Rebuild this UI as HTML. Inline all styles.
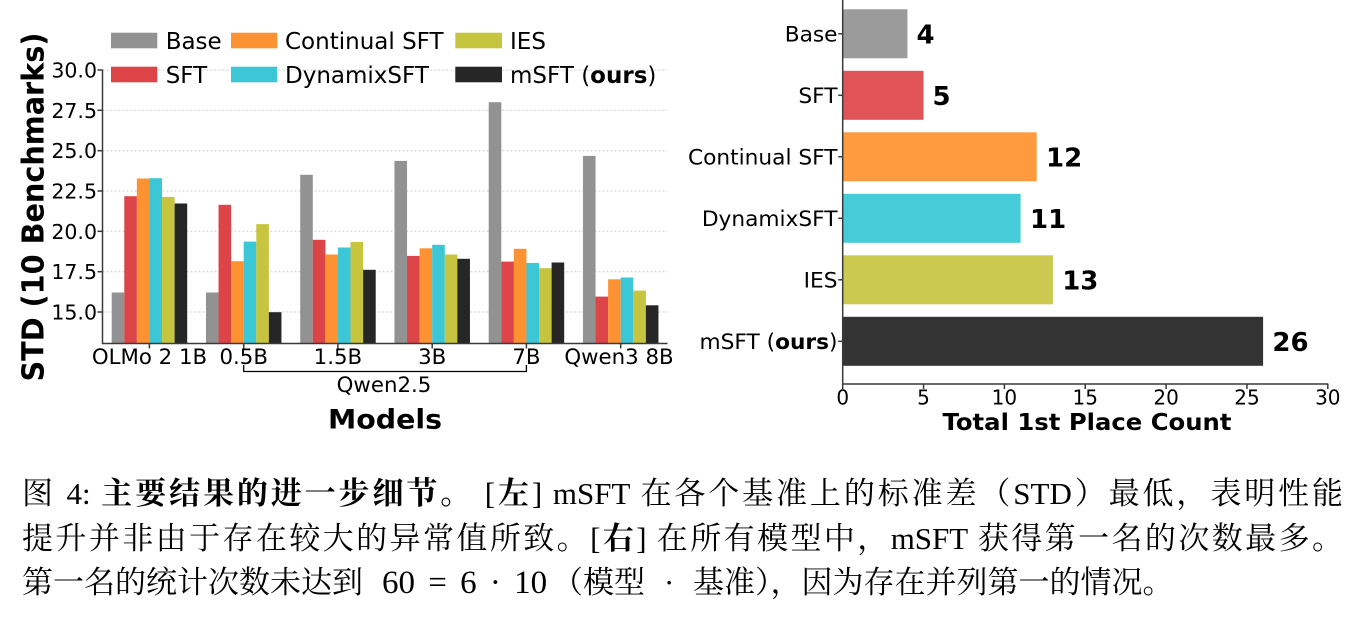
<!DOCTYPE html>
<html><head><meta charset="utf-8"><style>
html,body{margin:0;padding:0;background:#fff;}
body{width:1364px;height:626px;position:relative;overflow:hidden;}
svg{position:absolute;left:0;top:0;}
svg text{font-family:"DejaVu Sans","Liberation Sans",sans-serif;fill:#000;}
.cap{position:absolute;left:22px;width:1321px;font-family:"Liberation Serif","Noto Serif CJK SC",serif;font-size:31px;line-height:44.5px;color:#000;text-align:justify;text-align-last:justify;white-space:normal;}
.cap b{font-weight:bold;}
.seg{position:absolute;font-family:"Liberation Serif","Noto Serif CJK SC",serif;font-size:31px;line-height:44.5px;color:#000;white-space:nowrap;}
</style></head><body>
<svg width="1364" height="626" viewBox="0 0 1364 626" xmlns="http://www.w3.org/2000/svg">
<!-- LEFT CHART gridlines -->
<g stroke="#cfcfcf" stroke-width="1" stroke-dasharray="2,2">
<line x1="102.5" y1="70" x2="667.5" y2="70"/>
<line x1="102.5" y1="110.3" x2="667.5" y2="110.3"/>
<line x1="102.5" y1="150.7" x2="667.5" y2="150.7"/>
<line x1="102.5" y1="191" x2="667.5" y2="191"/>
<line x1="102.5" y1="231.3" x2="667.5" y2="231.3"/>
<line x1="102.5" y1="271.7" x2="667.5" y2="271.7"/>
<line x1="102.5" y1="312" x2="667.5" y2="312"/>
</g>
<!-- bars -->
<g>
<rect x="111.7" y="292.5" width="12.6" height="51" fill="#929292"/>
<rect x="124.28" y="196.2" width="12.6" height="147.3" fill="#dd4448"/>
<rect x="136.86" y="178.5" width="12.6" height="165" fill="#fd9232"/>
<rect x="149.44" y="178.2" width="12.6" height="165.3" fill="#3cc7d6"/>
<rect x="162.02" y="196.9" width="12.6" height="146.6" fill="#c7c540"/>
<rect x="174.6" y="203.5" width="12.6" height="140" fill="#262626"/>

<rect x="205.95" y="292.5" width="12.6" height="51" fill="#929292"/>
<rect x="218.53" y="204.8" width="12.6" height="138.7" fill="#dd4448"/>
<rect x="231.11" y="261.2" width="12.6" height="82.3" fill="#fd9232"/>
<rect x="243.69" y="241.6" width="12.6" height="101.9" fill="#3cc7d6"/>
<rect x="256.27" y="224.1" width="12.6" height="119.4" fill="#c7c540"/>
<rect x="268.85" y="312.2" width="12.6" height="31.3" fill="#262626"/>

<rect x="300.2" y="174.8" width="12.6" height="168.7" fill="#929292"/>
<rect x="312.78" y="239.8" width="12.6" height="103.7" fill="#dd4448"/>
<rect x="325.36" y="254.5" width="12.6" height="89" fill="#fd9232"/>
<rect x="337.94" y="247.5" width="12.6" height="96" fill="#3cc7d6"/>
<rect x="350.52" y="241.9" width="12.6" height="101.6" fill="#c7c540"/>
<rect x="363.1" y="269.8" width="12.6" height="73.7" fill="#262626"/>

<rect x="394.45" y="160.9" width="12.6" height="182.6" fill="#929292"/>
<rect x="407.03" y="255.9" width="12.6" height="87.6" fill="#dd4448"/>
<rect x="419.61" y="248.3" width="12.6" height="95.2" fill="#fd9232"/>
<rect x="432.19" y="244.8" width="12.6" height="98.7" fill="#3cc7d6"/>
<rect x="444.77" y="254.5" width="12.6" height="89" fill="#c7c540"/>
<rect x="457.35" y="258.8" width="12.6" height="84.7" fill="#262626"/>

<rect x="488.7" y="102.2" width="12.6" height="241.3" fill="#929292"/>
<rect x="501.28" y="261.6" width="12.6" height="81.9" fill="#dd4448"/>
<rect x="513.86" y="248.8" width="12.6" height="94.7" fill="#fd9232"/>
<rect x="526.44" y="262.9" width="12.6" height="80.6" fill="#3cc7d6"/>
<rect x="539.02" y="268.2" width="12.6" height="75.3" fill="#c7c540"/>
<rect x="551.6" y="262.5" width="12.6" height="81" fill="#262626"/>

<rect x="582.95" y="155.9" width="12.6" height="187.6" fill="#929292"/>
<rect x="595.53" y="296.6" width="12.6" height="46.9" fill="#dd4448"/>
<rect x="608.11" y="279.3" width="12.6" height="64.2" fill="#fd9232"/>
<rect x="620.69" y="277.5" width="12.6" height="66" fill="#3cc7d6"/>
<rect x="633.27" y="290.6" width="12.6" height="52.9" fill="#c7c540"/>
<rect x="645.85" y="305.3" width="12.6" height="38.2" fill="#262626"/>
</g>
<!-- spines -->
<g stroke="#3a3a3a" stroke-width="1.5" fill="none">
<line x1="102.5" y1="69.5" x2="102.5" y2="344"/>
<line x1="102" y1="343.5" x2="667.5" y2="343.5"/>
<line x1="97.5" y1="70" x2="102.5" y2="70"/>
<line x1="97.5" y1="110.3" x2="102.5" y2="110.3"/>
<line x1="97.5" y1="150.7" x2="102.5" y2="150.7"/>
<line x1="97.5" y1="191" x2="102.5" y2="191"/>
<line x1="97.5" y1="231.3" x2="102.5" y2="231.3"/>
<line x1="97.5" y1="271.7" x2="102.5" y2="271.7"/>
<line x1="97.5" y1="312" x2="102.5" y2="312"/>
<line x1="149.4" y1="343.5" x2="149.4" y2="348.5"/>
<line x1="243.7" y1="343.5" x2="243.7" y2="348.5"/>
<line x1="337.9" y1="343.5" x2="337.9" y2="348.5"/>
<line x1="432.2" y1="343.5" x2="432.2" y2="348.5"/>
<line x1="526.4" y1="343.5" x2="526.4" y2="348.5"/>
<line x1="620.7" y1="343.5" x2="620.7" y2="348.5"/>
</g>
<!-- y tick labels -->
<g font-size="20.5" text-anchor="end">
<text x="97" y="77.5">30.0</text>
<text x="97" y="117.8">27.5</text>
<text x="97" y="158.2">25.0</text>
<text x="97" y="198.5">22.5</text>
<text x="97" y="238.8">20.0</text>
<text x="97" y="279.2">17.5</text>
<text x="97" y="319.5">15.0</text>
</g>
<!-- x tick labels -->
<g font-size="21.3" text-anchor="middle">
<text x="149.5" y="364">OLMo 2 1B</text>
<text x="243.7" y="364">0.5B</text>
<text x="337.9" y="364">1.5B</text>
<text x="432.2" y="364">3B</text>
<text x="526.4" y="364">7B</text>
<text x="619" y="364">Qwen3 8B</text>
<text x="384" y="392">Qwen2.5</text>
</g>
<path d="M243.7,365 V371.5 H526.4 V365" stroke="#000" stroke-width="1.3" fill="none"/>
<text x="385" y="428.3" font-size="27" font-weight="bold" text-anchor="middle" textLength="114" lengthAdjust="spacingAndGlyphs">Models</text>
<text transform="translate(43.5,207) rotate(-90)" x="0" y="0" font-size="30" font-weight="bold" text-anchor="middle" textLength="349" lengthAdjust="spacingAndGlyphs">STD (10 Benchmarks)</text>
<!-- legend -->
<rect x="111" y="32.7" width="46.3" height="15.6" fill="#929292"/>
<rect x="111" y="66.7" width="46.3" height="15.6" fill="#dd4448"/>
<rect x="231" y="32.7" width="46.3" height="15.6" fill="#fd9232"/>
<rect x="231" y="66.7" width="46.3" height="15.6" fill="#3cc7d6"/>
<rect x="455.3" y="32.7" width="46.7" height="15.6" fill="#c7c540"/>
<rect x="455.3" y="66.7" width="46.7" height="15.6" fill="#262626"/>
<g font-size="23">
<text x="165.7" y="48.8">Base</text>
<text x="165.7" y="82.8">SFT</text>
<text x="285" y="48.8">Continual SFT</text>
<text x="285" y="82.8">DynamixSFT</text>
<text x="510" y="48.8">IES</text>
<text x="510" y="82.8">mSFT (<tspan font-weight="bold">ours</tspan>)</text>
</g>

<!-- RIGHT CHART -->
<g>
<rect x="842.7" y="9.3" width="64.7" height="49" fill="#9b9b9b"/>
<rect x="842.7" y="70.8" width="80.85" height="49" fill="#e05357"/>
<rect x="842.7" y="132.3" width="194" height="49" fill="#ff9a3f"/>
<rect x="842.7" y="193.8" width="177.9" height="49" fill="#45ccd8"/>
<rect x="842.7" y="255.3" width="210.2" height="49" fill="#cbc94f"/>
<rect x="842.7" y="316.8" width="420.4" height="49" fill="#333333"/>
</g>
<g stroke="#3a3a3a" stroke-width="1.5" fill="none">
<line x1="842.7" y1="0" x2="842.7" y2="384.5"/>
<line x1="842" y1="384" x2="1328.3" y2="384"/>
<line x1="842.7" y1="384" x2="842.7" y2="389"/>
<line x1="923.55" y1="384" x2="923.55" y2="389"/>
<line x1="1004.4" y1="384" x2="1004.4" y2="389"/>
<line x1="1085.25" y1="384" x2="1085.25" y2="389"/>
<line x1="1166.1" y1="384" x2="1166.1" y2="389"/>
<line x1="1246.95" y1="384" x2="1246.95" y2="389"/>
<line x1="1327.8" y1="384" x2="1327.8" y2="389"/>
<line x1="838.2" y1="33.8" x2="842.7" y2="33.8"/>
<line x1="838.2" y1="95.3" x2="842.7" y2="95.3"/>
<line x1="838.2" y1="156.8" x2="842.7" y2="156.8"/>
<line x1="838.2" y1="218.3" x2="842.7" y2="218.3"/>
<line x1="838.2" y1="279.8" x2="842.7" y2="279.8"/>
<line x1="838.2" y1="341.3" x2="842.7" y2="341.3"/>
</g>
<g font-size="20" text-anchor="middle">
<text x="842.7" y="404.3">0</text>
<text x="923.55" y="404.3">5</text>
<text x="1004.4" y="404.3">10</text>
<text x="1085.25" y="404.3">15</text>
<text x="1166.1" y="404.3">20</text>
<text x="1246.95" y="404.3">25</text>
<text x="1327.8" y="404.3">30</text>
</g>
<g font-size="21.7" text-anchor="end">
<text x="837.5" y="41.7">Base</text>
<text x="837.5" y="103.2">SFT</text>
<text x="837.5" y="164.7">Continual SFT</text>
<text x="837.5" y="226.2">DynamixSFT</text>
<text x="837.5" y="287.7">IES</text>
<text x="837.5" y="349.2">mSFT (<tspan font-weight="bold">ours</tspan>)</text>
</g>
<g font-size="26" font-weight="bold">
<text x="916.5" y="43.3">4</text>
<text x="932.5" y="104.8">5</text>
<text x="1046" y="166.3">12</text>
<text x="1030" y="227.8">11</text>
<text x="1062.2" y="289.3">13</text>
<text x="1272.4" y="350.8">26</text>
</g>
<text x="1087" y="430" font-size="23.5" font-weight="bold" text-anchor="middle" textLength="289" lengthAdjust="spacingAndGlyphs">Total 1st Place Count</text>
</svg>

<div class="cap" style="top:472px">图 4: <b>主要结果的进一步细节。</b> [<b>左</b>] mSFT 在各个基准上的标准差（STD）最低，表明性能</div>
<div class="cap" style="top:517px">提升并非由于存在较大的异常值所致。[<b>右</b>] 在所有模型中，mSFT 获得第一名的次数最多。</div>
<div class="seg" style="top:561px;left:22px">第一名的统计次数未达到</div>
<div class="seg" style="top:561px;left:382px;font-size:33px;word-spacing:5px">60 = 6 · 10</div>
<div class="seg" style="top:561px;left:552px">（模型</div>
<div class="seg" style="top:561px;left:664px">·</div>
<div class="seg" style="top:561px;left:693px">基准），因为存在并列第一的情况。</div>
</body></html>
